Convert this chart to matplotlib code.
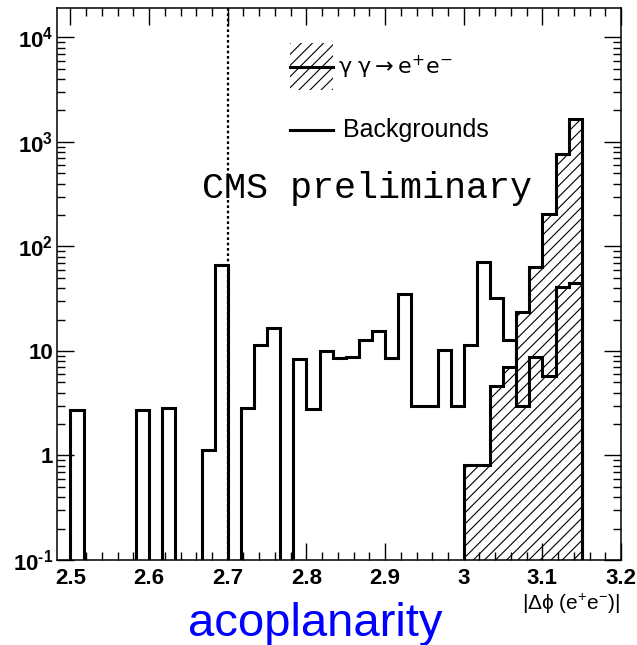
"""
Acoplanarity of e+e- pairs: gamma gamma -> e+e- signal vs backgrounds.
"""

import numpy as np
import matplotlib
matplotlib.use("Agg")
import matplotlib.pyplot as plt
from matplotlib.patches import Rectangle
from matplotlib.ticker import FixedLocator, FixedFormatter, LogLocator, NullFormatter

# bins of 1/60 starting at 2.5 (39 bins, up to 3.15)
bin_lo = 2.5
bin_width = 1.0 / 60
n_bins = 39

# event counts per bin
backgrounds = [2.75, 0, 0, 0, 0, 2.75, 0, 2.87, 0, 0,
               1.12, 66.0, 0, 2.87, 11.3, 16.7, 0, 8.44, 2.81, 10.1,
               8.55, 8.7, 12.8, 15.4, 8.6, 35.2, 2.96, 2.96, 10.3, 2.98,
               11.5, 70.6, 32.0, 12.8, 2.96, 8.75, 5.76, 40.7, 44.6]
signal = [0] * 30 + [0.81, 0.81, 4.6, 7.0, 23.4, 64.3, 205.0, 766.0, 1656.0]

x_ticks = [2.5, 2.6, 2.7, 2.8, 2.9, 3.0, 3.1, 3.2]
x_tick_labels = ["2.5", "2.6", "2.7", "2.8", "2.9", "3", "3.1", "3.2"]
y_ticks = [0.1, 1, 10, 100, 1000, 10000]
y_tick_labels = ["$\\mathbf{10^{\u2010 1}}$", "1", "10", r"$\mathbf{10^{2}}$",
                 r"$\mathbf{10^{3}}$", r"$\mathbf{10^{4}}$"]
cut_value = 2.7

plt.rcParams["font.family"] = ["Liberation Sans", "DejaVu Sans"]
plt.rcParams["mathtext.fontset"] = "custom"
plt.rcParams["mathtext.rm"] = "Liberation Sans"
plt.rcParams["mathtext.it"] = "Liberation Sans:italic"
plt.rcParams["mathtext.bf"] = "Liberation Sans:bold"
plt.rcParams["mathtext.fallback"] = "stixsans"
plt.rcParams["hatch.linewidth"] = 0.8

edges = bin_lo + bin_width * np.arange(n_bins + 1)
floor = 1e-3  # empty bins go below the axis


def clip_empty(vals):
    vals = np.asarray(vals, dtype=float)
    return np.where(vals > 0, vals, floor)


fig = plt.figure(figsize=(6.37, 6.45), dpi=100)
ax = fig.add_axes([0.090, 0.1318, 0.885, 0.8553])

# signal, hatched
ax.stairs(clip_empty(signal), edges, baseline=floor, fill=True,
          facecolor="none", edgecolor="black", hatch="///", linewidth=0)
ax.stairs(clip_empty(signal), edges, baseline=floor, color="black", linewidth=2.2)
# backgrounds, open
ax.stairs(clip_empty(backgrounds), edges, baseline=floor, color="black", linewidth=2.2)

ax.axvline(cut_value, color="black", linestyle=(0, (1.2, 1.2)), linewidth=1.6)

ax.set_yscale("log")
ax.set_xlim(bin_lo - bin_width, 3.2)
ax.set_ylim(0.1, 1.9e4)

ax.xaxis.set_major_locator(FixedLocator(x_ticks))
ax.xaxis.set_major_formatter(FixedFormatter(x_tick_labels))
ax.xaxis.set_minor_locator(FixedLocator(np.arange(2.48, 3.21, 0.02)))
ax.yaxis.set_major_locator(FixedLocator(y_ticks))
ax.yaxis.set_major_formatter(FixedFormatter(y_tick_labels))
ax.yaxis.set_minor_locator(LogLocator(base=10, subs=np.arange(2, 10), numticks=20))
ax.yaxis.set_minor_formatter(NullFormatter())

ax.tick_params(which="both", direction="in", top=True, right=True, width=1.0)
ax.tick_params(which="major", length=12)
ax.tick_params(which="minor", length=6)
ax.tick_params(axis="x", which="major", pad=6)
ax.tick_params(axis="y", which="major", pad=3)
for lab in ax.get_xticklabels() + ax.get_yticklabels():
    lab.set_fontsize(16)
    lab.set_fontweight("bold")
for sp in ax.spines.values():
    sp.set_linewidth(1.1)

# legend, drawn by hand like the ROOT one
ax.add_patch(Rectangle((0.413, 0.852), 0.076, 0.085, transform=ax.transAxes,
                       fill=False, hatch="///", linewidth=0))
ax.plot([0.413, 0.489], [0.8936, 0.8936], transform=ax.transAxes,
        color="black", linewidth=2.2)
ax.text(0.498, 0.8936, r"$\mathrm{\gamma\;\gamma \rightarrow e^{+}e^{-}}$",
        transform=ax.transAxes, fontsize=16, va="center", ha="left",
        math_fontfamily="dejavusans")
ax.plot([0.413, 0.489], [0.7794, 0.7794], transform=ax.transAxes,
        color="black", linewidth=2.2)
ax.text(0.507, 0.7794, "Backgrounds", transform=ax.transAxes,
        fontsize=18, va="center", ha="left")

ax.text(0.2567, 0.674, "CMS preliminary", transform=ax.transAxes,
        fontsize=26.5, family="Liberation Mono", va="center", ha="left")

fig.text(0.973, 0.064, r"$\mathrm{|\Delta\phi\ (e^{+}e^{-})|}$",
         fontsize=15, ha="right", va="center")
fig.text(0.495, 0.014, "acoplanarity", color="#0000ff", fontsize=34,
         ha="center", va="baseline")

fig.savefig("out.png", dpi=100)
